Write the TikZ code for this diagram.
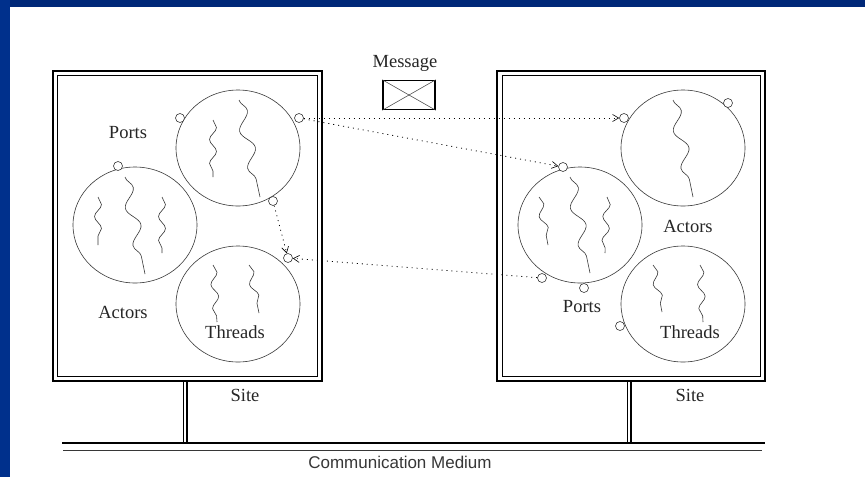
\documentclass[tikz,border=0pt]{standalone}
\usepackage{fontspec}
\setmainfont{Liberation Serif}
\newfontfamily\mediumfont{Liberation Sans}
\usetikzlibrary{arrows.meta,decorations.pathmorphing,shapes.geometric}
\definecolor{framebar}{RGB}{0,40,120}
\definecolor{framebarside}{RGB}{0,48,140}
\definecolor{inkgrey}{RGB}{55,55,55}
\tikzset{
  actor/.style={ellipse, draw=inkgrey, line width=0.6pt, minimum width=124pt, minimum height=116pt, inner sep=0pt},
  port/.style={circle, draw=inkgrey, line width=0.6pt, fill=white, minimum size=9pt, inner sep=0pt},
  thread/.style={draw=inkgrey, line width=0.6pt, decorate, decoration={snake, segment length=24pt, amplitude=3.5pt}},
  longthread/.style={draw=inkgrey, line width=0.6pt, decorate, decoration={snake, segment length=38pt, amplitude=6pt}},
  msgline/.style={line width=0.8pt, dash pattern=on 1pt off 4pt, -{Straight Barb[length=6pt,width=7pt,line width=0.6pt]}},
  lbl/.style={font=\fontsize{18.5}{22}\selectfont, inner sep=0pt, text=black!85},
  outerbox/.style={draw, line width=1.6pt},
  innerbox/.style={draw, line width=0.8pt},
}
\begin{document}
\begin{tikzpicture}[x=1pt,y=-1pt]
  % page and frame bars
  \fill[white] (0,0) rectangle (865,477);
  \useasboundingbox (0,0) rectangle (865,477);
  \fill[framebar] (0,0) rectangle (865,7);
  \fill[framebarside] (0,0) rectangle (10,477);

  % site boxes
  \draw[outerbox] (53,71) rectangle (322,381);
  \draw[innerbox] (57.5,75.5) rectangle (317,376.5);
  \draw[outerbox] (497,71) rectangle (765,381);
  \draw[innerbox] (502,75.5) rectangle (760,376.5);

  % stems and communication medium
  \draw[line width=0.8pt] (183,381) -- (183,442.7);
  \draw[line width=1.5pt] (187,381) -- (187,442.7);
  \draw[line width=0.8pt] (627,381) -- (627,442.7);
  \draw[line width=1.5pt] (631,381) -- (631,442.7);
  \draw[line width=2pt] (62,442.7) -- (765,442.7);
  \draw[line width=1pt, inkgrey] (63,450) -- (762,450);

  % actors of the left site
  \node[actor] (la1) at (238,148) {};
  \node[actor] (la2) at (135,225) {};
  \node[actor] (la3) at (238,304) {};
  % actors of the right site
  \node[actor] (ra1) at (683,148) {};
  \node[actor] (ra2) at (580,225) {};
  \node[actor] (ra3) at (683,304) {};

  % threads
  \draw[thread] (213,120) -- (213,177);
  \draw[longthread] (239,100) -- (260,197);
  \draw[thread] (98,197) -- (98,245);
  \draw[longthread] (125,177) -- (145,274);
  \draw[thread] (162,197) -- (162,253);
  \draw[thread] (213,265) -- (217,322);
  \draw[thread] (249,265) -- (259,313);

  \draw[longthread] (673,100) -- (693,197);
  \draw[thread] (539,197) -- (548,245);
  \draw[longthread] (570,177) -- (590,273);
  \draw[thread] (607,197) -- (605,253);
  \draw[thread] (653,265) -- (662,312);
  \draw[thread] (700,265) -- (703,322);

  % ports
  \node[port] (p1) at (180,118) {};
  \node[port] (p2) at (299,118) {};
  \node[port] (p3) at (118,166) {};
  \node[port] (p4) at (273,201) {};
  \node[port] (p5) at (288,258) {};
  \node[port] (q1) at (624,118) {};
  \node[port] (q2) at (728,103) {};
  \node[port] (q3) at (563,167) {};
  \node[port] (q4) at (542,278) {};
  \node[port] (q5) at (584,288) {};
  \node[port] (q6) at (620,326) {};

  % messages between ports
  \draw[msgline] (p2) -- (q1);
  \draw[msgline] (p2) -- (q3);
  \draw[msgline] (p4) -- (p5);
  \draw[msgline] (q4) -- (p5);

  % message envelope
  \node[draw, line width=1.5pt, minimum width=52pt, minimum height=29pt, inner sep=0pt] (msg) at (409,95) {};
  \draw[inkgrey, line width=0.5pt] (msg.north west) -- (msg.south east);
  \draw[inkgrey, line width=0.5pt] (msg.north east) -- (msg.south west);

  % labels
  \node[lbl] (tmsg) at (405,63) {Message};
  \node[lbl] (tpl) at (128,133) {Ports};
  \node[lbl] (tal) at (123,312) {Actors};
  \node[lbl] (ttl) at (235,332) {Threads};
  \node[lbl] (tsl) at (245,395) {Site};
  \node[lbl] (tpr) at (582,307) {Ports};
  \node[lbl] (tar) at (688,226) {Actors};
  \node[lbl] (ttr) at (690,332) {Threads};
  \node[lbl] (tsr) at (690,395) {Site};
  \node[inner sep=0pt, font=\mediumfont\fontsize{17}{20}\selectfont, text=inkgrey] (tcm) at (400,462) {Communication Medium};
\end{tikzpicture}
\end{document}
